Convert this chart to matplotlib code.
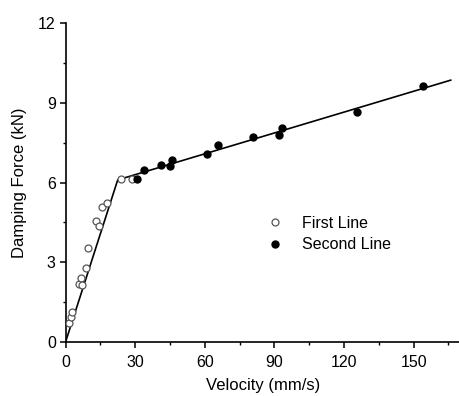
import matplotlib
matplotlib.use("Agg")
import matplotlib.pyplot as plt
from matplotlib.ticker import MultipleLocator

plt.rcParams["font.family"] = ["Liberation Sans", "DejaVu Sans"]

# measured points, first regime (open circles)
v1 = [1.6, 2.4, 2.9, 5.8, 6.7, 7.3, 8.9, 9.6, 13.1, 14.6, 15.7, 17.8, 23.9, 28.6]
f1 = [0.73, 0.95, 1.14, 2.2, 2.4, 2.15, 2.78, 3.54, 4.57, 4.35, 5.08, 5.23, 6.15, 6.15]

# measured points, second regime (filled circles)
v2 = [30.8, 34.0, 41.2, 45.7, 45.2, 61.1, 65.7, 80.6, 92.1, 93.2, 125.6, 154.2]
f2 = [6.12, 6.48, 6.65, 6.86, 6.62, 7.08, 7.43, 7.70, 7.77, 8.05, 8.65, 9.62]

# bilinear fit
fit_v = [0, 22.5, 166]
fit_f = [0, 6.1, 9.85]

fig = plt.figure(figsize=(4.6, 3.96), dpi=100)
ax = fig.add_axes([0.1424, 0.136, 0.8576, 0.806])

ax.plot(fit_v, fit_f, color="black", lw=1.2, zorder=2)
ax.plot(v1, f1, "o", ms=5, mfc="white", mec="#555555", mew=0.9,
        label="First Line", zorder=3)
ax.plot(v2, f2, "o", ms=5, mfc="black", mec="black",
        label="Second Line", zorder=3)

ax.set_xlim(0, 170)
ax.set_ylim(0, 12)
ax.xaxis.set_major_locator(MultipleLocator(30))
ax.xaxis.set_minor_locator(MultipleLocator(15))
ax.yaxis.set_major_locator(MultipleLocator(3))
ax.yaxis.set_minor_locator(MultipleLocator(1.5))

for side in ("top", "right"):
    ax.spines[side].set_visible(False)
for side in ("left", "bottom"):
    ax.spines[side].set_linewidth(1.2)

ax.tick_params(which="major", direction="out", length=4, width=1.1,
               labelsize=11.5)
ax.tick_params(which="minor", direction="out", length=2.5, width=1.0)
ax.tick_params(axis="x", which="major", pad=5)
ax.tick_params(axis="y", which="major", pad=3)

ax.set_xlabel("Velocity (mm/s)", fontsize=12, labelpad=6)
ax.set_ylabel("Damping Force (kN)", fontsize=12, labelpad=8)

ax.legend(frameon=False, loc="upper left", bbox_to_anchor=(0.49, 0.42),
          fontsize=11.5, handlelength=1.0, handletextpad=1.2,
          labelspacing=0.4, borderpad=0)

fig.savefig("out.png", dpi=100)
